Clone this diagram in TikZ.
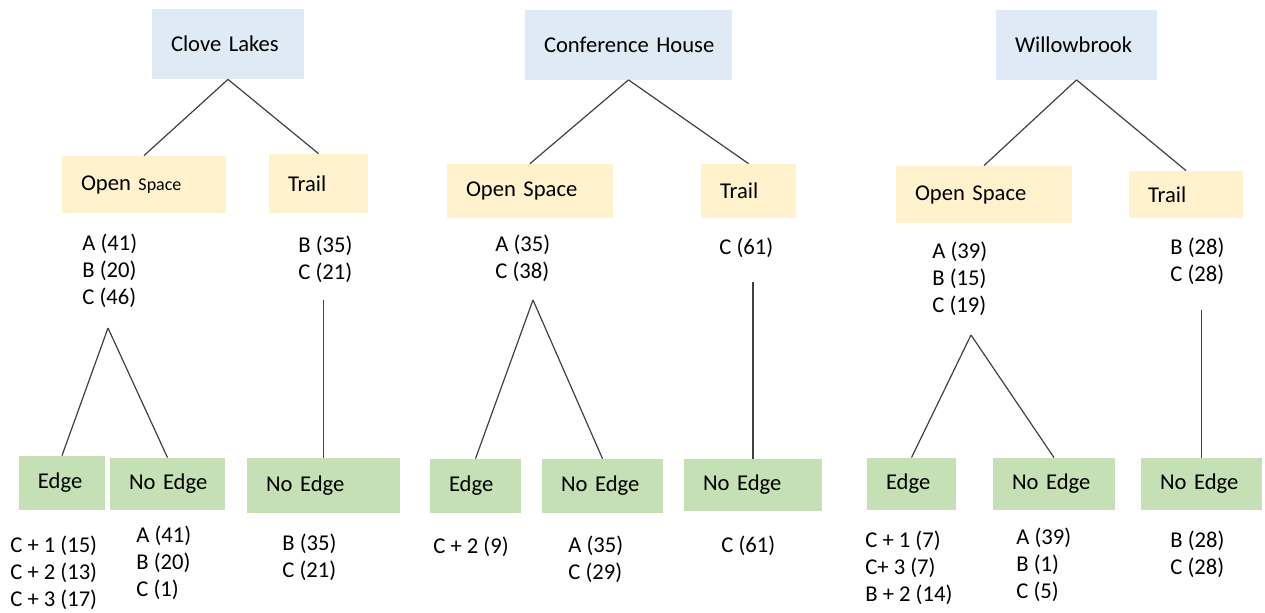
\documentclass[tikz,border=0pt]{standalone}
\usepackage{fontspec}
\setmainfont{Carlito}
\definecolor{parkblue}{HTML}{DEEBF7}
\definecolor{kindyellow}{HTML}{FFF2CC}
\definecolor{sidegreen}{HTML}{C5E0B4}
\definecolor{linkgray}{HTML}{404040}

\begin{document}
\begin{tikzpicture}
  [x=0.5pt,y=-0.5pt,
   every node/.style={font=\fontsize{11.3}{13.5}\selectfont},
   box/.style={rectangle,inner xsep=9.5pt,inner ysep=0pt,align=left,text width=#1},
   park/.style={box=#1,fill=parkblue,minimum height=35pt},
   kind/.style={box=#1,fill=kindyellow,minimum height=28pt},
   side/.style={box=#1,fill=sidegreen,minimum height=27pt},
   counts/.style={anchor=base west,align=left,inner sep=0pt},
   link/.style={draw=linkgray,line width=0.6pt}]
  \useasboundingbox (0,0) rectangle (1265,612);
  \node[park=57pt] (cl) at (228,44) {Clove~Lakes};
  \node[park=84.5pt] (ch) at (628.5,44.5) {Conference~House};
  \node[park=61.5pt] (wb) at (1076.5,44.5) {Willowbrook};
  \node[kind=63pt,minimum height=28.5pt] (clo) at (144,184.5) {Open~{\fontsize{9}{10}\selectfont Space}};
  \node[kind=30.5pt,minimum height=29.5pt] (clt) at (318.5,183.5) {Trail};
  \node[kind=64pt,minimum height=27pt] (cho) at (530,191) {Open~Space};
  \node[kind=28.5pt,minimum height=27pt] (cht) at (748.5,191) {Trail};
  \node[kind=69pt,minimum height=28.5pt] (wbo) at (984,194.5) {Open~Space};
  \node[kind=38pt,minimum height=23.5pt] (wbt) at (1186,194.5) {Trail};
  \node[counts] (cloc) at (82,304) {A (41)\\B (20)\\C (46)};
  \node[counts] (cltc) at (298,279) {B (35)\\C (21)};
  \node[counts] (choc) at (495,278) {A (35)\\C (38)};
  \node[counts] (chtc) at (719,254) {C (61)};
  \node[counts] (wboc) at (932,312) {A (39)\\B (15)\\C (19)};
  \node[counts] (wbtc) at (1170,281) {B (28)\\C (28)};
  \node[side=24pt] (cloe) at (62,483) {Edge};
  \node[side=38.5pt,minimum height=26pt] (clon) at (167.5,484) {No~Edge};
  \node[side=57.5pt,minimum height=27.5pt] (cltn) at (323.5,485.5) {No~Edge};
  \node[side=26.5pt] (choe) at (475.5,486) {Edge};
  \node[side=41.5pt] (chon) at (602.5,486) {No~Edge};
  \node[side=50pt,minimum height=26pt] (chtn) at (753,485) {No~Edge};
  \node[side=25.5pt,minimum height=26pt] (wboe) at (911.5,484) {Edge};
  \node[side=42pt,minimum height=26pt] (wbon) at (1054,484) {No~Edge};
  \node[side=41.5pt,minimum height=26pt] (wbtn) at (1201.5,484) {No~Edge};
  \node[counts] (cloec) at (10,606) {C + 1 (15)\\C + 2 (13)\\C + 3 (17)};
  \node[counts] (clonc) at (136,596) {A (41)\\B (20)\\C (1)};
  \node[counts] (cltnc) at (282,577) {B (35)\\C (21)};
  \node[counts] (choec) at (433,553) {C + 2 (9)};
  \node[counts] (chonc) at (568,579) {A (35)\\C (29)};
  \node[counts] (chtnc) at (721,552) {C (61)};
  \node[counts] (wboec) at (865,601) {C + 1 (7)\\C+ 3 (7)\\B + 2 (14)};
  \node[counts] (wbonc) at (1016,598) {A (39)\\B (1)\\C (5)};
  \node[counts] (wbtnc) at (1170,574) {B (28)\\C (28)};
  \coordinate (clop) at (108,328);
  \coordinate (cltp) at (323.5,300);
  \coordinate (chop) at (533,300);
  \coordinate (chtp) at (753,282);
  \coordinate (wbop) at (971,335);
  \coordinate (wbtp) at (1201.5,310);
  \foreach \from/\to in {cl/clo,cl/clt,ch/cho,ch/cht,wb/wbo,wb/wbt}
    \draw[link] (\from.south) -- (\to.north);
  \foreach \from/\to in {clop/cloe,clop/clon,cltp/cltn,chop/choe,chop/chon,chtp/chtn,wbop/wboe,wbop/wbon,wbtp/wbtn}
    \draw[link] (\from) -- (\to.north);
\end{tikzpicture}
\end{document}
